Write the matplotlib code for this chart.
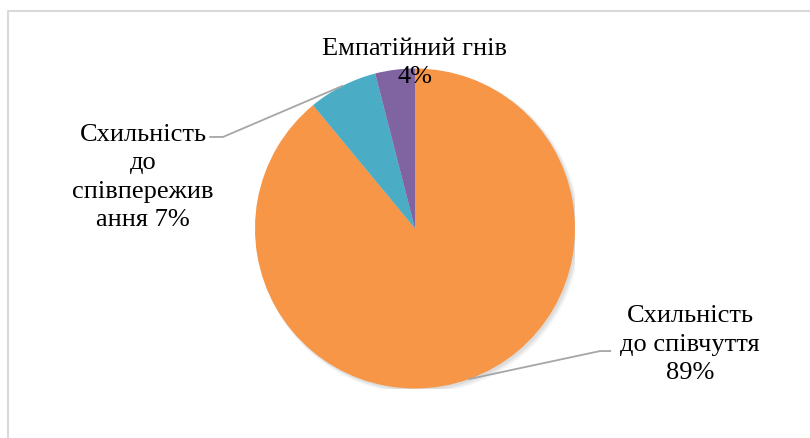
import numpy as np
import matplotlib
matplotlib.use("Agg")
import matplotlib.pyplot as plt
from matplotlib.lines import Line2D
from matplotlib.patches import Circle

# Data
labels = ["Схильність\nдо співчуття\n89%", "Схильність\nдо\nспівпережив\nання 7%", "Емпатійний гнів\n4%"]
values = [89, 7, 4]
colors = ["#F79646", "#4BACC6", "#8064A2"]

plt.rcParams["font.family"] = ["Liberation Serif", "DejaVu Serif"]

W, H = 810, 439
fig = plt.figure(figsize=(W / 100, H / 100), dpi=100)

# Pie centre (415, 229.5) px, radius 160 px
cx, cy, r = 415, 229.5, 160
ax = fig.add_axes([(cx - r) / W, (H - cy - r) / H, 2 * r / W, 2 * r / H])

# soft shadow
for i, a in enumerate([0.05, 0.05, 0.04]):
    ax.add_patch(Circle((0.012 + i * 0.004, -0.012 - i * 0.004), 1.0 + i * 0.006,
                        color="black", alpha=a, lw=0, zorder=0))

wedges, _ = ax.pie(values, colors=colors, startangle=90, counterclock=False,
                   radius=1, wedgeprops=dict(linewidth=0))
for w in wedges:
    w.set_zorder(2)
    w.set_clip_on(False)

ax.set_xlim(-1, 1)
ax.set_ylim(-1, 1)
ax.set_aspect("equal")
ax.axis("off")

# label positions (data units) and leader line knees
label_pos = [(1.72, -0.72), (-1.70, 0.325), (0.0, 1.04)]
knees = [((1.156, -0.766), (1.22, -0.766)), ((-1.20, 0.572), (-1.28, 0.572)), None]

for w, lab, pos, knee in zip(wedges, labels, label_pos, knees):
    ax.text(pos[0], pos[1], lab, ha="center", va="center", fontsize=19,
            linespacing=1.38, color="#000000", zorder=5, clip_on=False)
    if knee is not None:
        ang = np.deg2rad((w.theta1 + w.theta2) / 2)
        x0, y0 = np.cos(ang), np.sin(ang)
        ax.add_line(Line2D([x0, knee[0][0], knee[1][0]], [y0, knee[0][1], knee[1][1]],
                           color="#A6A6A6", lw=1.3, clip_on=False, zorder=3))

# chart area border (only top and left visible)
bx, by = 7.5 / W, 1 - 11.5 / H
fig.add_artist(Line2D([bx, bx, 1.01], [-0.01, by, by], transform=fig.transFigure,
                      color="#D9D9D9", lw=1.5))

fig.savefig("out.png", dpi=100, facecolor="white")
